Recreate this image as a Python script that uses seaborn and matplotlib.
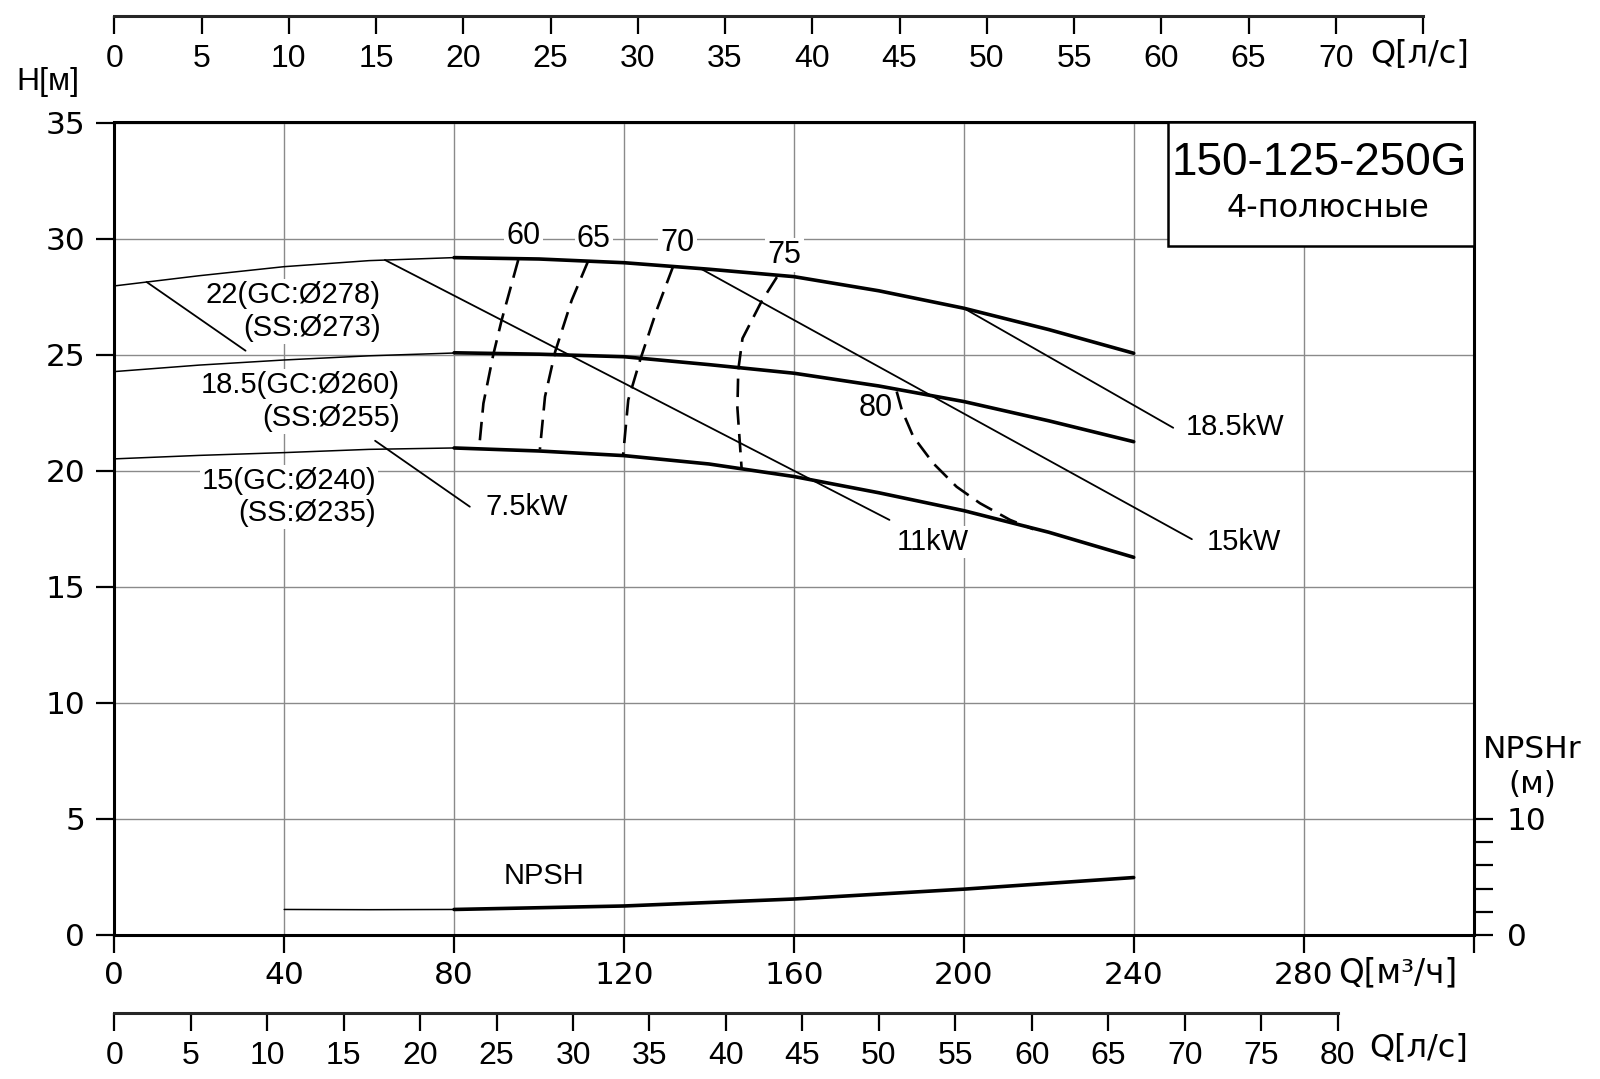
import matplotlib
matplotlib.use("Agg")
import matplotlib.pyplot as plt
from matplotlib.patches import Rectangle
import seaborn as sns

# --- data: Q [m3/h], H [m] ---
q_thin = [0, 20, 40, 60, 80]
h22_thin = [27.96, 28.40, 28.79, 29.05, 29.18]
h18_thin = [24.27, 24.55, 24.77, 24.95, 25.07]
h15_thin = [20.51, 20.66, 20.78, 20.92, 20.98]

q_work = [80, 100, 120, 140, 160, 180, 200, 220, 240]
h22_work = [29.18, 29.12, 28.96, 28.68, 28.36, 27.75, 27.00, 26.08, 25.06]
h18_work = [25.08, 25.02, 24.91, 24.57, 24.20, 23.65, 22.98, 22.15, 21.25]
h15_work = [20.98, 20.85, 20.65, 20.29, 19.75, 19.05, 18.28, 17.35, 16.27]

# NPSHr [m] on the right scale
q_npsh_thin = [40, 60, 80]
npsh_thin = [2.2, 2.18, 2.2]
q_npsh = [80, 120, 160, 200, 240]
npsh = [2.2, 2.5, 3.1, 3.95, 4.95]

# efficiency iso-lines (%)
eta_labels = ["60", "65", "70", "75", "80"]
eta60_q = [95.1, 91.2, 89.2, 86.9, 85.9]
eta60_h = [29.08, 26.49, 24.98, 22.90, 21.00]
eta65_q = [111.6, 107.7, 103.8, 101.4, 100.2]
eta65_h = [29.05, 27.35, 25.13, 23.19, 20.92]
eta70_q = [131.6, 127.7, 123.8, 121.0, 119.8]
eta70_h = [28.82, 26.92, 24.77, 23.05, 20.68]
eta75_q = [156.0, 152.4, 147.9, 146.9, 146.7, 147.7]
eta75_h = [28.34, 27.30, 25.70, 24.34, 22.70, 20.07]
eta80_q = [184.2, 185.4, 188.1, 192.8, 198.3, 203.8, 210.9, 216.4]
eta80_h = [23.41, 22.62, 21.47, 20.32, 19.31, 18.60, 17.88, 17.48]

# power lines
p11_q, p11_h = [63.7, 182.5], [29.08, 17.88]
p15_q, p15_h = [137.9, 253.7], [28.72, 17.05]
p18_q, p18_h = [200.0, 249.3], [27.00, 21.85]
p7_q, p7_h = [61.4, 83.7], [21.29, 18.45]
lead22_q, lead22_h = [7.6, 30.9], [28.13, 25.17]

# axis ticks
q_ticks = [0, 40, 80, 120, 160, 200, 240, 280, 320]
h_ticks = [0, 5, 10, 15, 20, 25, 30, 35]
ls_top_ticks = list(range(0, 80, 5))
ls_bot_ticks = list(range(0, 85, 5))
npsh_ticks = [0, 2, 4, 6, 8, 10]

W, H = 1600, 1079
sns.set_theme(style="white")
plt.rcParams["font.family"] = ["DejaVu Sans"]
plt.rcParams["text.color"] = "black"
ARIAL = ["Liberation Sans", "DejaVu Sans"]


def px(x, y):
    return x / W, 1 - y / H


fig = plt.figure(figsize=(16, 10.79), dpi=100)
ax = fig.add_axes([114.3 / W, 1 - 935 / H, 1359.2 / W, 812.5 / H])

ax.set_xlim(0, 320)
ax.set_ylim(0, 35)
ax.set_xticks(q_ticks, labels=[str(t) for t in q_ticks[:-1]] + [""])
ax.set_yticks(h_ticks)
ax.grid(True, color="#8a8a8a", lw=1.0)
ax.set_axisbelow(True)
for s in ax.spines.values():
    s.set_visible(True)
    s.set_color("black")
    s.set_linewidth(2.2)
ax.tick_params(axis="both", bottom=True, left=True, direction="out", length=13,
               width=1.6, color="black", labelsize=22.5, labelcolor="black")
ax.tick_params(axis="x", pad=6)
ax.tick_params(axis="y", pad=8)

# head curves
for q, h in [(q_thin, h22_thin), (q_thin, h18_thin), (q_thin, h15_thin)]:
    sns.lineplot(x=q, y=h, ax=ax, color="black", lw=1.1, sort=False, estimator=None)
for q, h in [(q_work, h22_work), (q_work, h18_work), (q_work, h15_work)]:
    sns.lineplot(x=q, y=h, ax=ax, color="black", lw=2.6, sort=False, estimator=None)

# power lines
for q, h in [(p11_q, p11_h), (p15_q, p15_h), (p18_q, p18_h), (p7_q, p7_h), (lead22_q, lead22_h)]:
    sns.lineplot(x=q, y=h, ax=ax, color="black", lw=1.3, sort=False, estimator=None, zorder=5)

# efficiency lines
for q, h in [(eta60_q, eta60_h), (eta65_q, eta65_h), (eta70_q, eta70_h),
             (eta75_q, eta75_h), (eta80_q, eta80_h)]:
    sns.lineplot(x=q, y=h, ax=ax, color="black", lw=1.9, sort=False, estimator=None,
                 linestyle=(0, (7, 3.5)))

box = dict(facecolor="white", edgecolor="none", pad=1.5)
eta_pos = [(96.3, 30.1), (112.9, 30.0), (132.6, 29.8), (157.8, 29.3), (179.2, 22.7)]
for lab, (x, y) in zip(eta_labels, eta_pos):
    ax.text(x, y, lab, ha="center", va="center", fontsize=22, family=ARIAL, bbox=box, zorder=4)

lab_kw = dict(ha="right", va="center", fontsize=21, family=ARIAL, multialignment="right",
              bbox=box, zorder=4)
ax.text(62.7, 26.85, "22(GC:Ø278)\n(SS:Ø273)", **lab_kw)
ax.text(67.3, 22.98, "18.5(GC:Ø260)\n(SS:Ø255)", **lab_kw)
ax.text(61.7, 18.87, "15(GC:Ø240)\n(SS:Ø235)", **lab_kw)

ax.text(87.4, 18.43, "7.5kW", ha="left", va="center", fontsize=21, family=ARIAL, bbox=box)
ax.text(192.7, 16.94, "11kW", ha="center", va="center", fontsize=21, family=ARIAL, bbox=box)
ax.text(265.9, 16.94, "15kW", ha="center", va="center", fontsize=21, family=ARIAL, bbox=box)
ax.text(263.8, 21.9, "18.5kW", ha="center", va="center", fontsize=21, family=ARIAL, bbox=box)
ax.text(101.1, 2.56, "NPSH", ha="center", va="center", fontsize=21, family=ARIAL)

# title box
ax.add_patch(Rectangle((0.7752, 0.848), 0.2248, 0.152, transform=ax.transAxes,
                       facecolor="white", edgecolor="black", lw=1.8, zorder=6, clip_on=False))
ax.text(0.8866, 0.9498, "150-125-250G", transform=ax.transAxes, ha="center", va="center",
        fontsize=33, family=ARIAL, zorder=7)
ax.text(0.8927, 0.8945, "4-полюсные", transform=ax.transAxes, ha="center", va="center",
        fontsize=23, zorder=7)

# NPSHr scale on the right
ax2 = ax.twinx()
ax2.set_ylim(0, 70)
ax2.set_yticks(npsh_ticks, labels=["0", "", "", "", "", "10"])
ax2.grid(False)
for s in ax2.spines.values():
    s.set_visible(False)
ax2.tick_params(axis="y", right=True, direction="out", length=14, width=1.6,
                color="black", labelsize=22.5, labelcolor="black", pad=10)
sns.lineplot(x=q_npsh_thin, y=npsh_thin, ax=ax2, color="black", lw=1.1, sort=False, estimator=None)
sns.lineplot(x=q_npsh, y=npsh, ax=ax2, color="black", lw=2.6, sort=False, estimator=None)
ax2.set_xlim(0, 320)

# top l/s scale (not aligned to the m3/h axis in the original)
axt = fig.add_axes([114.3 / W, 1 - 16.3 / H, (1423 - 114.3) / W, 0.0001])
axt.set_xlim(0, 75)
axt.set_xticks(ls_top_ticks, labels=[str(t) for t in ls_top_ticks[:-1]] + [""])
axt.set_yticks([])
axt.patch.set_visible(False)
for k, s in axt.spines.items():
    s.set_visible(k == "bottom")
axt.spines["bottom"].set_linewidth(2.2)
axt.tick_params(axis="x", bottom=True, direction="out", length=13, width=1.6, color="black",
                labelsize=23, labelcolor="black", pad=7)
for t in axt.get_xticklabels():
    t.set_family(ARIAL)

# bottom l/s scale
axb = fig.add_axes([114.3 / W, 1 - 1013 / H, (1337.6 - 114.3) / W, 0.0001])
axb.set_xlim(0, 80)
axb.set_xticks(ls_bot_ticks, labels=[str(t) for t in ls_bot_ticks])
axb.set_yticks([])
axb.patch.set_visible(False)
for k, s in axb.spines.items():
    s.set_visible(k == "bottom")
axb.spines["bottom"].set_linewidth(2.2)
axb.tick_params(axis="x", bottom=True, direction="out", length=13, width=1.6, color="black",
                labelsize=23, labelcolor="black", pad=7)
for t in axb.get_xticklabels():
    t.set_family(ARIAL)

# axis titles
fig.text(*px(48, 82), "H[м]", ha="center", va="center", fontsize=23, family=ARIAL)
fig.text(*px(1420, 54), "Q[л/с]", ha="center", va="center", fontsize=23)
fig.text(*px(1398, 973), "Q[м³/ч]", ha="center", va="center", fontsize=23.5)
fig.text(*px(1419, 1049), "Q[л/с]", ha="center", va="center", fontsize=23)
fig.text(*px(1532, 767), "NPSHr\n(м)", ha="center", va="center", fontsize=22.5, linespacing=1.3)

fig.savefig("out.png", dpi=100, facecolor="white")
